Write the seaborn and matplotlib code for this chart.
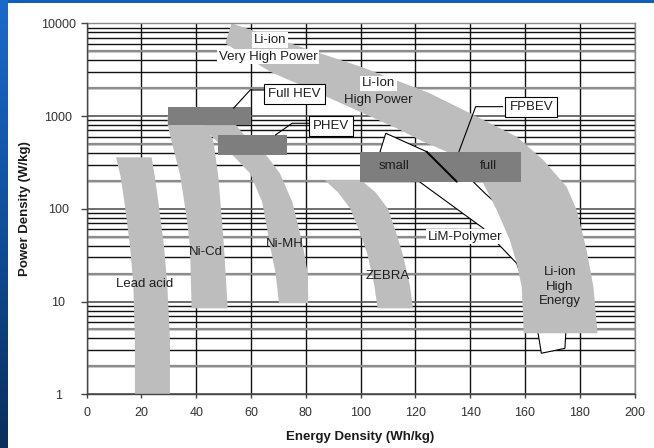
import numpy as np
import matplotlib
matplotlib.use("Agg")
import matplotlib.pyplot as plt
import seaborn as sns
from matplotlib.ticker import FixedLocator, FuncFormatter, LogLocator, NullFormatter
from matplotlib.colors import LinearSegmentedColormap
from matplotlib.patches import Rectangle

# ---------------- data (Energy density Wh/kg, Power density W/kg) ----------------
LEAD_LEFT_X = [10.7, 12.4, 14.0, 15.8, 17.0, 17.6, 17.6]
LEAD_RIGHT_X = [23.7, 24.9, 26.4, 28.2, 29.4, 30.4, 30.4]
LEAD_Y = [359, 220, 105, 40, 15.7, 3.85, 1]

NICD_LEFT_X = [29.5, 29.6, 30.9, 34.1, 36.5, 37.7, 38.3]
NICD_RIGHT_X = [41.5, 43.0, 46.2, 48.0, 49.3, 50.1, 51.5]
NICD_Y = [1000, 800, 548, 231, 80, 39, 8.45]

NIMH_LEFT_X = [42.5, 44.5, 48.5, 53.6, 59.6, 64.0, 65.5, 67.0, 69.0, 70.2]
NIMH_RIGHT_X = [54.5, 57.0, 61.0, 65.8, 70.5, 75.0, 77.0, 79.0, 80.7, 80.9]
NIMH_Y = [800, 650, 500, 370, 242, 120, 70, 39, 20, 9.6]

ZEBRA_LEFT_X = [86.9, 91.8, 96.3, 99.8, 102.4, 105.0, 106.2]
ZEBRA_RIGHT_X = [100.1, 105.5, 110.0, 113.0, 115.3, 118.0, 119.1]
ZEBRA_Y = [204, 150, 100, 55, 33, 15, 8.45]

LIION_OUTER_X = [52.9, 77.9, 101.0, 125.3, 140.0, 157.0, 166.7, 175.2, 178.9, 182.5, 185.0, 186.5]
LIION_OUTER_Y = [10000, 5600, 3330, 1758, 1072, 598, 336, 173, 97, 36, 14.5, 4.55]
LIION_INNER_X = [50.6, 67.0, 81.5, 101.0, 113.2, 122.9, 131.4, 138.0, 144.8, 149.7, 154.5, 157.0, 158.8, 159.4, 159.5]
LIION_INNER_Y = [6080, 3000, 1950, 1070, 738, 529, 413, 279, 188, 97, 46, 25.8, 14.5, 6.3, 4.55]

LIM_X = [109.2, 124.1, 141.1, 145.4, 160.0, 170.0, 174.9, 174.6, 166.0, 164.8, 161.0, 157.0, 144.8, 122.3, 107.1]
LIM_Y = [652, 413, 196, 147, 60, 15, 4.55, 3.13, 2.77, 4.55, 12, 25.8, 61.6, 188, 413]

# vehicle requirement boxes
BOX_NAMES = ["Full HEV", "PHEV", "FPBEV"]
BOX_X0 = [29.5, 48.0, 99.8]
BOX_X1 = [60.0, 73.0, 158.4]
BOX_Y0 = [800, 378, 196]
BOX_Y1 = [1257, 622, 413]

# divider line across the FPBEV box
DIV_X = [124.1, 135.1]
DIV_Y = [413, 196]

# leader lines
LEAD_FULLHEV_X = [65.1, 59.7, 53.6]
LEAD_FULLHEV_Y = [1910, 1910, 1213]
LEAD_PHEV_X = [81.1, 75.0, 68.9]
LEAD_PHEV_Y = [836, 836, 625]
LEAD_FPBEV_X = [151.9, 142.0, 135.9]
LEAD_FPBEV_Y = [1262, 1262, 413]

# labels
BOXLABEL_X = [75.8, 89.2, 162.3]
BOXLABEL_Y = [1730, 785, 1241]

PLAIN_LABELS = ["Lead acid", "Ni-Cd", "Ni-MH", "ZEBRA", "Li-ion\nHigh\nEnergy", "small", "full"]
PLAIN_X = [21.3, 43.6, 72.4, 110.0, 172.8, 112.3, 146.6]
PLAIN_Y = [15.5, 34.0, 41.7, 18.9, 14.5, 292, 292]

WHITE_LABELS = ["Li-ion", "Very High Power", "Li-Ion", "LiM-Polymer"]
WHITE_X = [67.0, 66.3, 106.5, 138.1]
WHITE_Y = [6600, 4370, 2255, 50]
HP_LABEL = "High Power"
HP_X, HP_Y = 106.5, 1490

X_TICKS = [0, 20, 40, 60, 80, 100, 120, 140, 160, 180, 200]
Y_TICKS = [1, 10, 100, 1000, 10000]
X_LABEL = "Energy Density (Wh/kg)"
Y_LABEL = "Power Density (W/kg)"

# ---------------- style ----------------
sns.set_theme(style="white")
plt.rcParams['font.family'] = ['Liberation Sans', 'DejaVu Sans']

BAND = "#bdbdbd"
DARK = "#7e7e7e"
TXT = "#1e1e1e"

W, H = 654, 448
fig = plt.figure(figsize=(W / 100, H / 100), dpi=100, facecolor="white")

# blue slide frame (top strip + left gradient strip)
fig.add_artist(Rectangle((0, 1 - 3.5 / H), 1, 3.5 / H, transform=fig.transFigure,
                         facecolor="#0d5fc2", edgecolor="none", zorder=0))
strip = fig.add_axes([0, 0, 7.5 / W, 1])
cmap = LinearSegmentedColormap.from_list("bl", ["#1a6acb", "#0f4f9c", "#0a2e5e"])
strip.imshow(np.linspace(0, 1, 200).reshape(-1, 1), cmap=cmap, aspect="auto")
strip.axis("off")

L, R, T, B = 86.7, 634.5, 23.3, 394.3
ax = fig.add_axes([L / W, 1 - B / H, (R - L) / W, (B - T) / H])
ax.set_facecolor("white")
ax.set_yscale("log")
ax.set_xlim(0, 200)
ax.set_ylim(1, 10000)
ax.set_axisbelow(True)

# grid
ax.xaxis.set_major_locator(FixedLocator(X_TICKS))
ax.yaxis.set_major_locator(FixedLocator(Y_TICKS))
ax.yaxis.set_minor_locator(LogLocator(base=10, subs=np.arange(2, 10)))
ax.yaxis.set_minor_formatter(NullFormatter())
ax.yaxis.set_major_formatter(FuncFormatter(lambda v, p: f"{v:g}"))
ax.grid(True, which="major", axis="x", color="#111111", lw=1.0)
ax.grid(True, which="major", axis="y", color="#555555", lw=1.2)
ax.grid(True, which="minor", axis="y", color="#111111", lw=1.0)
for dec in [1, 10, 100, 1000]:
    for m in (2, 5):
        ax.axhline(dec * m, color="#8c8c8c", lw=1.6, zorder=0.6)

# LiM-Polymer (white, outlined, below Li-ion band)
ax.fill(LIM_X, LIM_Y, facecolor="white", edgecolor="black", lw=0.8, zorder=1.5)

def band(lx, rx, ly, ry):
    xs = list(lx) + list(rx)[::-1]
    ys = list(ly) + list(ry)[::-1]
    ax.fill(xs, ys, color=BAND, lw=0, zorder=2)

band(LEAD_LEFT_X, LEAD_RIGHT_X, LEAD_Y, LEAD_Y)
band(NICD_LEFT_X, NICD_RIGHT_X, NICD_Y, NICD_Y)
band(NIMH_LEFT_X, NIMH_RIGHT_X, NIMH_Y, NIMH_Y)
band(ZEBRA_LEFT_X, ZEBRA_RIGHT_X, ZEBRA_Y, ZEBRA_Y)
band(LIION_OUTER_X, LIION_INNER_X, LIION_OUTER_Y, LIION_INNER_Y)

# requirement boxes
for x0, x1, y0, y1 in zip(BOX_X0, BOX_X1, BOX_Y0, BOX_Y1):
    ax.fill_between([x0, x1], [y0, y0], [y1, y1], color=DARK, lw=0, zorder=3)

# lines via seaborn
for xs, ys, lw in [(DIV_X, DIV_Y, 1.4), (LEAD_FULLHEV_X, LEAD_FULLHEV_Y, 0.8),
                   (LEAD_PHEV_X, LEAD_PHEV_Y, 0.8), (LEAD_FPBEV_X, LEAD_FPBEV_Y, 0.8)]:
    sns.lineplot(x=xs, y=ys, sort=False, estimator=None, color="black", lw=lw,
                 ax=ax, zorder=4, legend=False)

FS = 9.5
for name, x, y in zip(BOX_NAMES, BOXLABEL_X, BOXLABEL_Y):
    ax.text(x, y, name, ha="center", va="center", fontsize=FS, color=TXT, zorder=6,
            bbox=dict(boxstyle="square,pad=0.3", fc="white", ec="black", lw=0.8))
for name, x, y in zip(PLAIN_LABELS, PLAIN_X, PLAIN_Y):
    ax.text(x, y, name, ha="center", va="center", fontsize=FS, color=TXT, zorder=6,
            linespacing=1.25)
for name, x, y in zip(WHITE_LABELS, WHITE_X, WHITE_Y):
    ax.text(x, y, name, ha="center", va="center", fontsize=FS, color=TXT, zorder=6,
            bbox=dict(boxstyle="square,pad=0.12", fc="white", ec="none"))
ax.text(HP_X, HP_Y, HP_LABEL, ha="center", va="center", fontsize=FS, color=TXT, zorder=6)

# spines & ticks
for s in ["top", "right"]:
    ax.spines[s].set_color("#888888")
    ax.spines[s].set_linewidth(1.0)
for s in ["left", "bottom"]:
    ax.spines[s].set_color("#444444")
    ax.spines[s].set_linewidth(1.0)
    ax.spines[s].set_zorder(5)

ax.tick_params(axis="y", which="major", direction="out", length=4, width=1,
               color="#444444", pad=16.5, labelsize=9, labelcolor="#333333", left=True)
ax.tick_params(axis="y", which="minor", length=0)
ax.tick_params(axis="x", which="major", direction="out", length=3, width=1,
               color="#444444", pad=6, labelsize=9, labelcolor="#333333", bottom=True)
for lab in ax.get_yticklabels():
    lab.set_horizontalalignment("center")

ax.set_xlabel(X_LABEL, fontsize=9.5, fontweight="bold", color="#1a1a1a")
ax.set_ylabel(Y_LABEL, fontsize=9.5, fontweight="bold", color="#1a1a1a")
ax.xaxis.set_label_coords(0.5, -0.114)
ax.xaxis.label.set_va("center")
ax.yaxis.set_label_coords(-0.1126, 0.5)
ax.yaxis.label.set_va("center")

fig.savefig("out.png", dpi=100, facecolor="white")
